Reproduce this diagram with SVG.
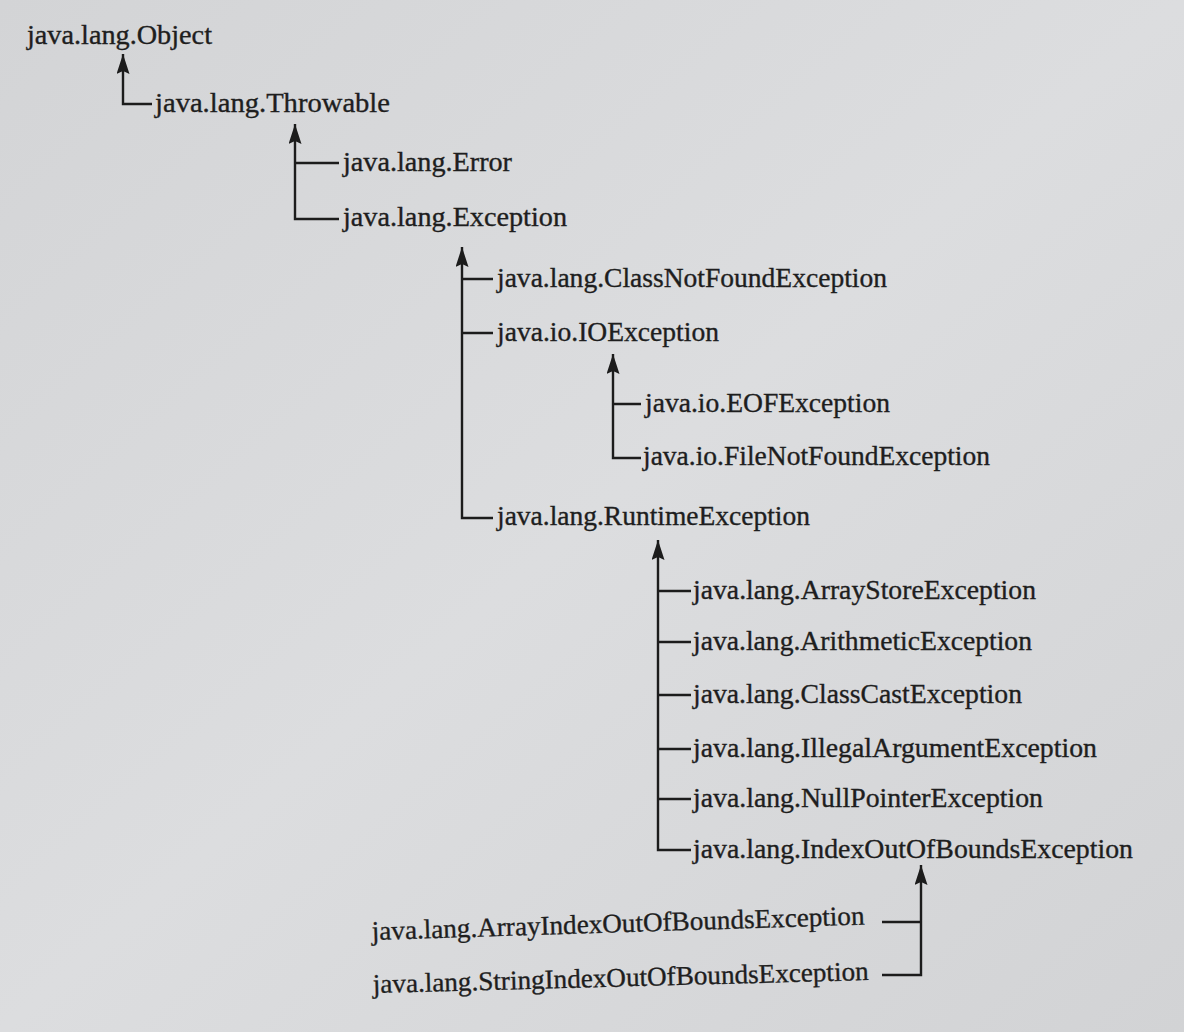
<svg xmlns="http://www.w3.org/2000/svg" width="1184" height="1032" viewBox="0 0 1184 1032">
<defs>
<marker id="ah" viewBox="0 0 20 13" refX="20" refY="6.5" markerWidth="20" markerHeight="13" markerUnits="userSpaceOnUse" orient="auto-start-reverse">
<path d="M0,0 L20,6.5 L0,13 L3,6.5 Z" fill="#1c1c1c"/>
</marker>
<linearGradient id="bg" x1="0" y1="0" x2="1" y2="1">
<stop offset="0" stop-color="#d3d4d6"/>
<stop offset="0.5" stop-color="#dcdddf"/>
<stop offset="1" stop-color="#d2d3d5"/>
</linearGradient>
</defs>
<style>
text{font-family:"Liberation Serif","Times New Roman",serif;font-size:27px;fill:#1e1e1e;stroke:#1e1e1e;stroke-width:0.35}
.c{fill:none;stroke:#1c1c1c;stroke-width:2.4}
</style>
<rect x="0" y="0" width="1184" height="1032" fill="url(#bg)"/>
<g id="connectors">
<path class="c" d="M123,54 V104 H152" marker-start="url(#ah)"/>
<path class="c" d="M295,124 V219 H339 M295,163 H339" marker-start="url(#ah)"/>
<path class="c" d="M462,247 V518 H493 M462,279 H493 M462,333 H493" marker-start="url(#ah)"/>
<path class="c" d="M613,354 V458 H641 M613,404 H641" marker-start="url(#ah)"/>
<path class="c" d="M658,540 V850 H691 M658,591 H691 M658,642 H691 M658,695 H691 M658,749 H691 M658,799 H691" marker-start="url(#ah)"/>
<path class="c" d="M921,865 V975 H882 M921,922 H882" marker-start="url(#ah)"/>
</g>
<g id="n-object"><text x="27" y="44" textLength="185" lengthAdjust="spacingAndGlyphs">java.lang.Object</text></g>
<g id="n-throwable"><text x="155" y="112" textLength="235" lengthAdjust="spacingAndGlyphs">java.lang.Throwable</text></g>
<g id="n-error"><text x="343" y="171" textLength="169" lengthAdjust="spacingAndGlyphs">java.lang.Error</text></g>
<g id="n-exception"><text x="343" y="226" textLength="224" lengthAdjust="spacingAndGlyphs">java.lang.Exception</text></g>
<g id="n-classnotfound"><text x="497" y="287" textLength="390" lengthAdjust="spacingAndGlyphs">java.lang.ClassNotFoundException</text></g>
<g id="n-ioexception"><text x="497" y="341" textLength="222" lengthAdjust="spacingAndGlyphs">java.io.IOException</text></g>
<g id="n-eof"><text x="645" y="412" textLength="245" lengthAdjust="spacingAndGlyphs">java.io.EOFException</text></g>
<g id="n-filenotfound"><text x="643" y="465" textLength="347" lengthAdjust="spacingAndGlyphs">java.io.FileNotFoundException</text></g>
<g id="n-runtime"><text x="497" y="525" textLength="313" lengthAdjust="spacingAndGlyphs">java.lang.RuntimeException</text></g>
<g id="n-arraystore"><text x="693" y="599" textLength="343" lengthAdjust="spacingAndGlyphs">java.lang.ArrayStoreException</text></g>
<g id="n-arithmetic"><text x="693" y="650" textLength="339" lengthAdjust="spacingAndGlyphs">java.lang.ArithmeticException</text></g>
<g id="n-classcast"><text x="693" y="703" textLength="329" lengthAdjust="spacingAndGlyphs">java.lang.ClassCastException</text></g>
<g id="n-illegalargument"><text x="693" y="757" textLength="404" lengthAdjust="spacingAndGlyphs">java.lang.IllegalArgumentException</text></g>
<g id="n-nullpointer"><text x="693" y="807" textLength="350" lengthAdjust="spacingAndGlyphs">java.lang.NullPointerException</text></g>
<g id="n-indexoutofbounds"><text x="693" y="858" textLength="440" lengthAdjust="spacingAndGlyphs">java.lang.IndexOutOfBoundsException</text></g>
<g id="n-arrayindex"><text x="372" y="940" textLength="493" lengthAdjust="spacingAndGlyphs" transform="rotate(-1.8 372 940)">java.lang.ArrayIndexOutOfBoundsException</text></g>
<g id="n-stringindex"><text x="373" y="993" textLength="496" lengthAdjust="spacingAndGlyphs" transform="rotate(-1.5 373 993)">java.lang.StringIndexOutOfBoundsException</text></g>
</svg>
